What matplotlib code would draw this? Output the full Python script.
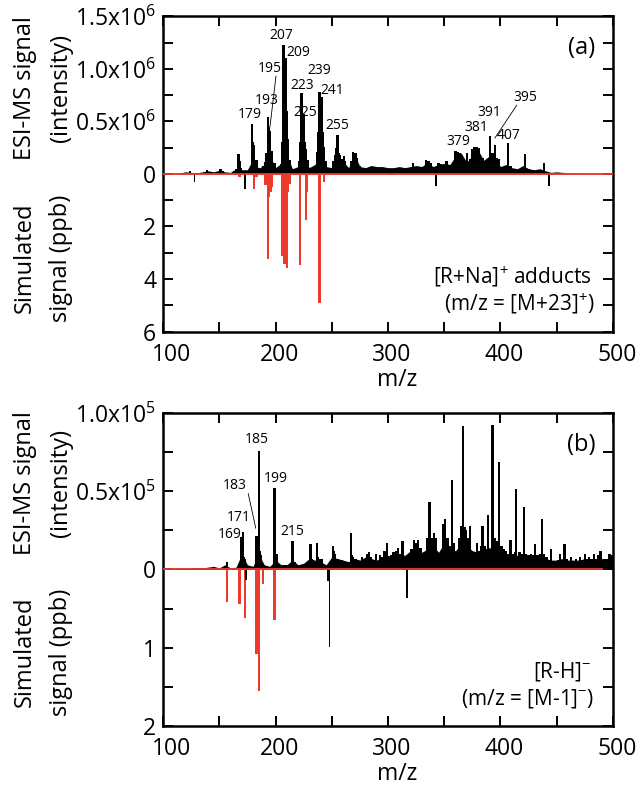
import numpy as np
import matplotlib
matplotlib.use('Agg')
import matplotlib.pyplot as plt
import matplotlib.transforms as mtransforms

plt.rcParams['font.family'] = ['Open Sans', 'DejaVu Sans']
plt.rcParams['mathtext.fontset'] = 'custom'
plt.rcParams['mathtext.rm'] = 'Open Sans'
plt.rcParams['mathtext.it'] = 'Open Sans:italic'

RED = '#ee3a2c'

# ---------------- panel (a): [R+Na]+ adducts ----------------
# ESI-MS background envelope, intensity in 1e6
a_bg_mz = list(range(100, 505, 5))
a_bg_int = [0.005, 0.005, 0.005, 0.01, 0.02, 0.015, 0.01, 0.02, 0.03, 0.02,
            0.035, 0.02, 0.015, 0.05, 0.04, 0.04, 0.14, 0.05, 0.09, 0.18,
            0.06, 0.1, 0.18, 0.05, 0.07, 0.16, 0.06, 0.09, 0.18, 0.07,
            0.06, 0.13, 0.12, 0.06, 0.19, 0.07, 0.06, 0.08, 0.07, 0.07,
            0.06, 0.06, 0.07, 0.06, 0.07, 0.08, 0.07, 0.11, 0.07, 0.09,
            0.1, 0.09, 0.17, 0.2, 0.11, 0.18, 0.23, 0.13, 0.17, 0.16,
            0.07, 0.09, 0.06, 0.05, 0.08, 0.05, 0.04, 0.05, 0.03, 0.015,
            0.02, 0.015, 0.01, 0.008, 0.006, 0.005, 0.005, 0.005, 0.005, 0.005,
            0.005]
# ESI-MS peaks
a_pk_mz = [124, 139, 151, 153, 163, 165, 167, 168, 169, 177, 179, 180, 181, 183, 185,
           189, 191, 192, 193, 194, 195, 196, 197, 199, 203, 205, 206, 207, 208, 209,
           210, 211, 213, 215, 219, 221, 222, 223, 224, 225, 226, 227, 229, 235, 237,
           238, 239, 240, 241, 242, 243, 245, 251, 253, 254, 255, 256, 257, 259, 261,
           262, 267, 269, 270, 271, 272, 275, 322, 334, 336, 338, 345, 347, 352, 360,
           362, 364, 370, 373, 375, 377, 379, 381, 384, 386, 391, 393, 395, 397, 399,
           403, 407, 409, 413, 422, 425, 439]
a_pk_int = [0.03, 0.04, 0.05, 0.03, 0.03, 0.05, 0.19, 0.12, 0.06, 0.05, 0.48, 0.3, 0.28, 0.13, 0.06,
            0.08, 0.11, 0.2, 0.54, 0.45, 0.41, 0.2, 0.22, 0.1, 0.06, 0.09, 0.3, 1.23, 0.7, 1.10,
            0.6, 0.33, 0.13, 0.05, 0.05, 0.12, 0.3, 0.77, 0.45, 0.57, 0.3, 0.24, 0.13, 0.08, 0.21,
            0.4, 0.78, 0.5, 0.73, 0.4, 0.26, 0.12, 0.12, 0.18, 0.25, 0.375, 0.2, 0.18, 0.14, 0.17,
            0.12, 0.12, 0.21, 0.2, 0.2, 0.15, 0.08, 0.1, 0.13, 0.12, 0.1, 0.1, 0.09, 0.12, 0.22,
            0.21, 0.2, 0.2, 0.14, 0.24, 0.26, 0.26, 0.25, 0.15, 0.12, 0.36, 0.2, 0.28, 0.15, 0.14,
            0.07, 0.29, 0.08, 0.05, 0.19, 0.05, 0.1]
# ESI-MS below zero (drawn in ppb scale)
a_neg_mz = [128, 173, 343, 443]
a_neg_ppb = [0.3, 0.59, 0.46, 0.46]
# simulated signal (ppb)
a_sim_mz = [168, 181, 183, 191, 193, 194, 196, 197, 206, 208, 210, 211, 213, 222, 227, 228, 239, 243]
a_sim_ppb = [0.12, 0.59, 0.1, 0.42, 3.24, 0.87, 0.68, 0.48, 3.12, 3.44, 3.59, 0.67, 0.4, 3.46,
             1.74, 0.67, 4.91, 0.3]
a_sim_end = 500
# peak labels: text, m/z, intensity (1e6)
a_lab_txt = ['207', '209', '195', '239', '223', '241', '193', '225', '179', '255',
             '395', '391', '381', '407', '379']
a_lab_mz = [204.9, 220.3, 194.5, 238.9, 223.8, 250.0, 192.2, 226.8, 176.7, 254.9,
            421.8, 389.8, 378.8, 406.9, 362.5]
a_lab_int = [1.32, 1.16, 1.0, 0.98, 0.846, 0.79, 0.70, 0.584, 0.567, 0.46,
             0.728, 0.584, 0.44, 0.365, 0.31]
a_lead = [((200.4, 0.93), (195.1, 0.45)), ((414.4, 0.654), (395.1, 0.343))]
a_ticklab = {6: '1.5x10$^{6}$', 4: '1.0x10$^{6}$', 2: '0.5x10$^{6}$', 0: '0',
             -2: '2', -4: '4', -6: '6'}

# ---------------- panel (b): [R-H]- ----------------
b_bg_mz = list(range(100, 505, 5))
b_bg_int = [0.005, 0.005, 0.008, 0.01, 0.008, 0.01, 0.012, 0.01, 0.015, 0.02,
            0.01, 0.03, 0.01, 0.015, 0.1, 0.03, 0.02, 0.1, 0.03, 0.02,
            0.06, 0.03, 0.03, 0.06, 0.03, 0.04, 0.07, 0.06, 0.05, 0.03,
            0.08, 0.07, 0.06, 0.05, 0.07, 0.06, 0.08, 0.07, 0.06, 0.08,
            0.09, 0.08, 0.1, 0.09, 0.12, 0.14, 0.11, 0.13, 0.15, 0.11,
            0.17, 0.13, 0.12, 0.16, 0.15, 0.12, 0.11, 0.13, 0.14, 0.12,
            0.11, 0.1, 0.1, 0.09, 0.09, 0.08, 0.08, 0.08, 0.07, 0.06,
            0.06, 0.07, 0.06, 0.06, 0.06, 0.07, 0.07, 0.07, 0.07, 0.07,
            0.06]
b_pk_mz = [157, 169, 170, 171, 172, 173, 183, 184, 185, 186, 187, 199, 200, 201, 207,
           209, 211, 215, 217, 227, 231, 232, 233, 237, 238, 239, 241, 251, 252, 253,
           255, 257, 259, 263, 267, 268, 269, 271, 273, 277, 281, 283, 285, 289, 293,
           295, 297, 299, 303, 305, 307, 309, 311, 313, 317, 321, 323, 325, 327, 329,
           331, 335, 337, 338, 339, 341, 343, 345, 349, 351, 353, 355, 357, 359, 361,
           363, 365, 367, 368, 369, 371, 373, 375, 377, 379, 381, 383, 384, 386, 389,
           391, 393, 395, 397, 399, 401, 403, 405, 407, 409, 411, 413, 414, 417, 419,
           421, 423, 425, 427, 429, 431, 433, 435, 437, 439, 441, 443, 445, 447, 451,
           453, 457, 459, 463, 467, 471, 475, 479, 483, 487, 489, 493, 497, 499]
b_pk_int = [0.045, 0.21, 0.18, 0.24, 0.08, 0.07, 0.215, 0.1, 0.755, 0.12, 0.09, 0.52, 0.1, 0.1, 0.03,
            0.03, 0.03, 0.18, 0.05, 0.04, 0.16, 0.07, 0.06, 0.17, 0.08, 0.07, 0.07, 0.15, 0.12, 0.1,
            0.07, 0.06, 0.06, 0.05, 0.23, 0.09, 0.08, 0.07, 0.06, 0.08, 0.1, 0.11, 0.08, 0.1, 0.09,
            0.08, 0.12, 0.17, 0.09, 0.11, 0.12, 0.14, 0.1, 0.18, 0.06, 0.13, 0.19, 0.17, 0.19, 0.14,
            0.08, 0.2, 0.43, 0.2, 0.2, 0.23, 0.2, 0.1, 0.29, 0.32, 0.2, 0.15, 0.574, 0.17, 0.1,
            0.2, 0.28, 0.915, 0.27, 0.25, 0.2, 0.28, 0.12, 0.1, 0.17, 0.12, 0.15, 0.28, 0.15, 0.35,
            0.12, 0.926, 0.2, 0.18, 0.687, 0.15, 0.13, 0.12, 0.1, 0.19, 0.1, 0.11, 0.516, 0.11, 0.1,
            0.40, 0.1, 0.09, 0.1, 0.09, 0.16, 0.09, 0.1, 0.32, 0.1, 0.08, 0.06, 0.13, 0.05, 0.06,
            0.1, 0.16, 0.07, 0.08, 0.07, 0.08, 0.1, 0.08, 0.1, 0.09, 0.12, 0.07, 0.1, 0.09]
b_neg_mz = [174, 247, 248, 317]
b_neg_ppb = [0.13, 0.15, 0.99, 0.36]
b_sim_mz = [157, 168, 173, 183, 185, 189, 199]
b_sim_ppb = [0.41, 0.44, 0.62, 1.08, 1.55, 0.18, 0.64]
b_sim_end = 491
b_lab_txt = ['185', '199', '183', '171', '169', '215']
b_lab_mz = [183.3, 200.4, 163.4, 167.8, 159.6, 215.3]
b_lab_int = [0.83, 0.58, 0.535, 0.335, 0.226, 0.242]
b_lead = [((175.8, 0.484), (182.4, 0.264))]
b_ticklab = {4: '1.0x10$^{5}$', 2: '0.5x10$^{5}$', 0: '0', -2: '1', -4: '2'}

FS = 16.5


def panel(fig, ax, bg_mz, bg_int, pk_mz, pk_int, neg_mz, neg_ppb, sim_mz, sim_ppb, sim_end,
          up, down, ymax, ticklab, lab_txt, lab_mz, lab_int, leads, tag, note1, note2):
    # up: axis units per intensity unit, down: axis units per ppb
    ax.fill_between(bg_mz, 0, np.array(bg_int) * up, color='k', lw=0, zorder=2)
    ax.bar(pk_mz, np.array(pk_int) * up, width=2.0, color='k', lw=0, zorder=2)
    ax.hlines(0, 100, sim_end, color=RED, lw=1.3, zorder=4)
    ax.bar(sim_mz, -np.array(sim_ppb) * down, width=2.0, color=RED, lw=0, zorder=3)
    ax.bar(neg_mz, -np.array(neg_ppb) * down, width=1.6, color='k', lw=0, zorder=3)

    for t, m, v in zip(lab_txt, lab_mz, lab_int):
        ax.text(m, v * up, t, fontsize=10, ha='center', va='center', zorder=5)
    for (p0, p1) in leads:
        ax.plot([p0[0], p1[0]], [p0[1] * up, p1[1] * up], color='k', lw=0.6, zorder=5)

    ax.set_xlim(100, 500)
    ax.set_ylim(-ymax, ymax)
    ax.set_xticks([100, 200, 300, 400, 500])
    ax.set_xticks([150, 250, 350, 450], minor=True)
    yt = list(range(-ymax, ymax + 1))
    ax.set_yticks(yt)
    ax.set_yticklabels([ticklab.get(v, '') for v in yt])
    ax.tick_params(which='both', direction='in', top=True, right=True, length=7, width=1.4,
                   labelsize=FS, pad=5)
    ax.tick_params(axis='x', pad=8)
    # x tick labels sit a little right of their ticks in the original
    for i, lab in enumerate(ax.get_xticklabels()):
        dx = 9 if i == 0 else 4
        shift = mtransforms.ScaledTranslation(dx / 100, 0, fig.dpi_scale_trans)
        lab.set_transform(lab.get_transform() + shift)
    for s in ax.spines.values():
        s.set_linewidth(1.8)
    ax.set_xlabel('m/z', fontsize=FS, labelpad=-1)
    ax.xaxis.set_label_coords(0.52, -0.115)
    ax.text(0.930, 0.899, tag, transform=ax.transAxes, fontsize=17, ha='center', va='center')
    ax.text(0.952, 0.173, note1, transform=ax.transAxes, fontsize=15, ha='right', va='center')
    ax.text(0.958, 0.088, note2, transform=ax.transAxes, fontsize=15, ha='right', va='center')


fig = plt.figure(figsize=(6.38, 7.88), dpi=100)
ax1 = fig.add_axes([0.2555, 0.5792, 0.7053, 0.4001])
ax2 = fig.add_axes([0.2555, 0.0787, 0.7053, 0.3972])

panel(fig, ax1, a_bg_mz, a_bg_int, a_pk_mz, a_pk_int, a_neg_mz, a_neg_ppb, a_sim_mz, a_sim_ppb,
      a_sim_end, 4, 1, 6, a_ticklab, a_lab_txt, a_lab_mz, a_lab_int, a_lead,
      '(a)', '[R+Na]$^{+}$ adducts', '(m/z = [M+23]$^{+}$)')
panel(fig, ax2, b_bg_mz, b_bg_int, b_pk_mz, b_pk_int, b_neg_mz, b_neg_ppb, b_sim_mz, b_sim_ppb,
      b_sim_end, 4, 2, 4, b_ticklab, b_lab_txt, b_lab_mz, b_lab_int, b_lead,
      '(b)', '[R-H]$^{-}$', '(m/z = [M-1]$^{-}$)')

# y labels (two lines each half)
H = 788.0
for y_up, y_dn in [(88, 258), (483, 652)]:
    fig.text(25 / 638, 1 - y_up / H, 'ESI-MS signal', rotation=90, ha='center', va='center', fontsize=17)
    fig.text(61 / 638, 1 - y_up / H, '(intensity)', rotation=90, ha='center', va='center', fontsize=17)
    fig.text(25 / 638, 1 - y_dn / H, 'Simulated', rotation=90, ha='center', va='center', fontsize=17)
    fig.text(61 / 638, 1 - y_dn / H, 'signal (ppb)', rotation=90, ha='center', va='center', fontsize=17)

fig.savefig('out.png', dpi=100)
